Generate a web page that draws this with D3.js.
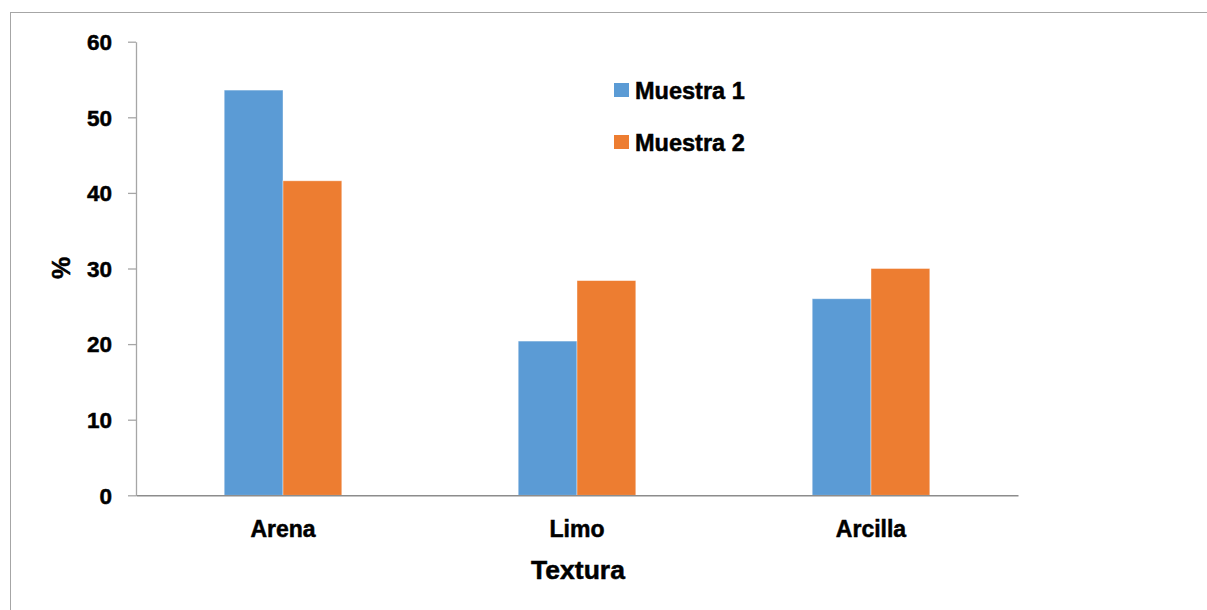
<!DOCTYPE html>
<html>
<head>
<meta charset="utf-8">
<script src="https://cdn.jsdelivr.net/npm/d3@7/dist/d3.min.js"></script>
<style>
  html, body { margin: 0; padding: 0; background: #fff; }
  svg { display: block; }
  text { font-family: "Liberation Sans", Arial, sans-serif; font-weight: bold; fill: #000;
         stroke: #000; stroke-width: 0.5px; }
</style>
</head>
<body>
<svg id="chart" width="1207" height="610"></svg>
<script>
// Soil texture composition (%) for two samples
const categories = ["Arena", "Limo", "Arcilla"];
const seriesNames = ["Muestra 1", "Muestra 2"];
const muestra1 = [53.6, 20.4, 26.0];
const muestra2 = [41.6, 28.4, 30.0];
const yTicks = [0, 10, 20, 30, 40, 50, 60];
const colors = ["#5B9BD5", "#ED7D31"];

const svg = d3.select("#chart");

// outer chart frame
svg.append("rect")
  .attr("x", 10.5).attr("y", 12.5)
  .attr("width", 1220).attr("height", 620)
  .attr("fill", "none").attr("stroke", "#a6a6a6").attr("stroke-width", 1);

const plot = { left: 136, right: 1018, top: 41.7, bottom: 495.3 };

const x0 = d3.scaleBand().domain(categories)
  .range([plot.left, plot.right]).paddingInner(0.6).paddingOuter(0.3);
const x1 = d3.scaleBand().domain(seriesNames).range([0, x0.bandwidth()]);
const y = d3.scaleLinear().domain([0, 60]).range([plot.bottom, plot.top]);

const rows = categories.map((c, i) => ({ cat: c, vals: [muestra1[i], muestra2[i]] }));

// bars
const groups = svg.append("g").selectAll("g").data(rows).join("g")
  .attr("transform", d => `translate(${x0(d.cat)},0)`);
groups.selectAll("rect")
  .data(d => d.vals.map((v, j) => ({ name: seriesNames[j], v, j })))
  .join("rect")
  .attr("x", d => x1(d.name))
  .attr("y", d => y(d.v))
  .attr("width", x1.bandwidth())
  .attr("height", d => y(0) - y(d.v))
  .attr("fill", d => colors[d.j])
  .attr("stroke", "#ffffff").attr("stroke-opacity", 0.5).attr("stroke-width", 0.8);

// y axis
const yAxis = svg.append("g")
  .attr("transform", `translate(${plot.left},0)`)
  .call(d3.axisLeft(y).tickValues(yTicks).tickSize(8).tickPadding(16).tickSizeOuter(0));
yAxis.select(".domain").attr("stroke", "#a6a6a6").attr("stroke-width", 1.3);
yAxis.selectAll(".tick line").attr("stroke", "#a6a6a6").attr("stroke-width", 1.3);
yAxis.selectAll(".tick text").style("font-size", "22.5px").attr("dy", "0.35em");

// x axis
const xAxis = svg.append("g")
  .attr("transform", `translate(0,${plot.bottom})`)
  .call(d3.axisBottom(x0).tickSize(0).tickPadding(25));
xAxis.select(".domain").attr("stroke", "#8c8c8c").attr("stroke-width", 1.6);
xAxis.selectAll(".tick text").style("font-size", "23px");

// axis titles
svg.append("text")
  .attr("x", (plot.left + plot.right) / 2 + 1).attr("y", 579)
  .attr("text-anchor", "middle").style("font-size", "26.5px")
  .text("Textura");
svg.append("text")
  .attr("transform", "translate(70,268) rotate(-90)")
  .attr("text-anchor", "middle").style("font-size", "25px")
  .text("%");

// legend
const legend = svg.append("g").attr("transform", "translate(614,83)");
const items = legend.selectAll("g").data(seriesNames).join("g")
  .attr("transform", (d, i) => `translate(0,${i * 52})`);
items.append("rect")
  .attr("width", 15).attr("height", 14)
  .attr("fill", (d, i) => colors[i]);
items.append("text")
  .attr("x", 21).attr("y", 16)
  .style("font-size", "23.5px")
  .text(d => d);
</script>
</body>
</html>
